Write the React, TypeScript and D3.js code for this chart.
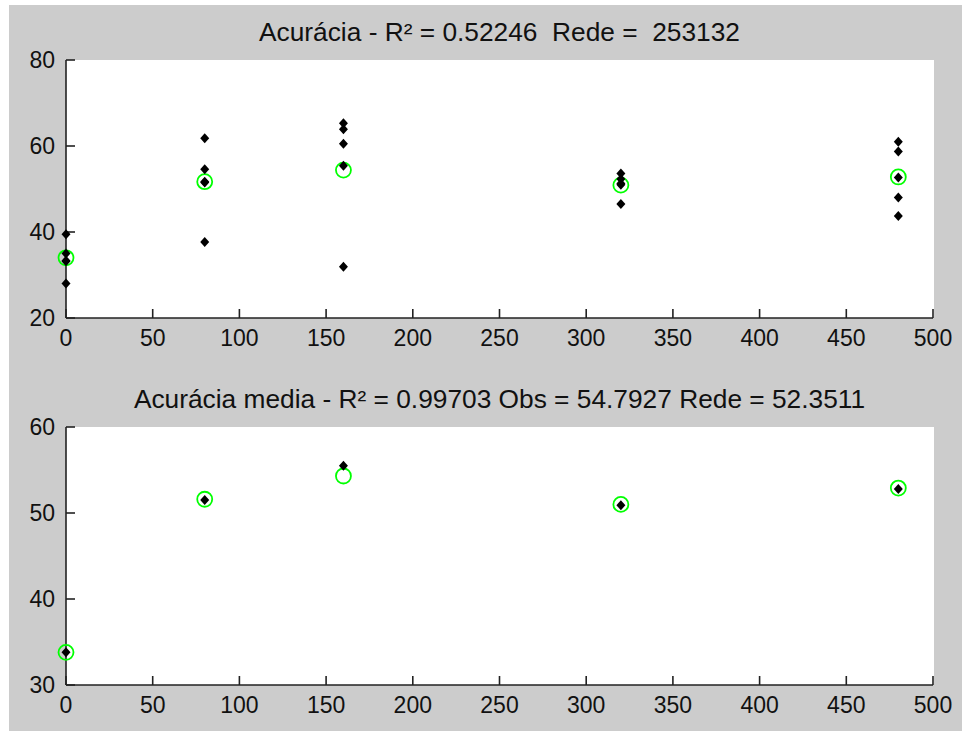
import React, { useEffect, useRef } from 'react';
import * as d3 from 'd3';

// training inputs (x) and the observed accuracies at each of them
const xValues = [0, 80, 160, 320, 480];
const observed = [
  [39.5, 35.0, 33.3, 33.2, 28.0],
  [61.8, 54.6, 51.7, 51.5, 37.7],
  [65.3, 63.9, 60.5, 55.4, 31.9],
  [53.6, 52.3, 51.3, 51.0, 46.5],
  [61.0, 58.7, 52.7, 48.0, 43.7],
];
// network output (green circles)
const netTop = [34.0, 51.7, 54.4, 50.9, 52.8];
const netMean = [33.8, 51.6, 54.3, 51.0, 52.9];
// observed mean (black points, bottom plot)
const obsMean = [33.8, 51.5, 55.5, 50.9, 52.8];

const xTicks = [0, 50, 100, 150, 200, 250, 300, 350, 400, 450, 500];
const yTicksTop = [20, 40, 60, 80];
const yTicksBottom = [30, 40, 50, 60];

const titleTop = 'Acurácia - R² = 0.52246  Rede =  253132';
const titleBottom = 'Acurácia media - R² = 0.99703 Obs = 54.7927 Rede = 52.3511';

const W = 962;
const H = 733;
const font = 'Arial, "Liberation Sans", sans-serif';

function App() {
  const ref = useRef<SVGSVGElement>(null);

  useEffect(() => {
    const svg = d3.select(ref.current);
    svg.selectAll('*').remove();

    // figure background (MATLAB grey) with thin white edge
    svg.append('rect').attr('width', W).attr('height', H).attr('fill', '#fff');
    svg.append('rect')
      .attr('x', 9).attr('y', 5)
      .attr('width', W - 9).attr('height', H - 7)
      .attr('fill', '#cccccc');

    const x = d3.scaleLinear().domain([0, 500]).range([66, 933]);

    const diamond = 'M0,-5L4.5,0L0,5L-4.5,0Z';

    const drawAxes = (y: d3.ScaleLinear<number, number>, yTicks: number[], title: string, titleY: number) => {
      const [y0, y1] = y.range();
      const g = svg.append('g');

      g.append('rect')
        .attr('x', x(0)).attr('y', y1)
        .attr('width', x(500) - x(0) + 1).attr('height', y0 - y1)
        .attr('fill', '#fff');

      g.append('text')
        .attr('x', (x(0) + x(500)) / 2)
        .attr('y', titleY)
        .attr('text-anchor', 'middle')
        .style('white-space', 'pre')
        .attr('font-family', font)
        .attr('font-size', 26.3)
        .attr('fill', '#111')
        .text(title);

      // bottom axis
      g.append('line')
        .attr('x1', x(0)).attr('x2', x(500))
        .attr('y1', y0).attr('y2', y0)
        .attr('stroke', '#222').attr('stroke-width', 1.6);
      g.selectAll('.xt')
        .data(xTicks)
        .enter()
        .append('line')
        .attr('x1', d => x(d)).attr('x2', d => x(d))
        .attr('y1', y0).attr('y2', y0 - 9)
        .attr('stroke', '#222').attr('stroke-width', 1.6);
      g.selectAll('.xl')
        .data(xTicks)
        .enter()
        .append('text')
        .attr('x', d => x(d))
        .attr('y', y0 + 28)
        .attr('text-anchor', 'middle')
        .attr('font-family', font)
        .attr('font-size', 23)
        .attr('fill', '#111')
        .text(d => d);

      // left axis
      g.append('line')
        .attr('x1', x(0)).attr('x2', x(0))
        .attr('y1', y0).attr('y2', y1)
        .attr('stroke', '#222').attr('stroke-width', 1.6);
      g.selectAll('.yt')
        .data(yTicks)
        .enter()
        .append('line')
        .attr('x1', x(0)).attr('x2', x(0) + 9)
        .attr('y1', d => y(d)).attr('y2', d => y(d))
        .attr('stroke', '#222').attr('stroke-width', 1.6);
      g.selectAll('.yl')
        .data(yTicks)
        .enter()
        .append('text')
        .attr('x', x(0) - 11)
        .attr('y', d => y(d))
        .attr('dy', '0.35em')
        .attr('text-anchor', 'end')
        .attr('font-family', font)
        .attr('font-size', 23)
        .attr('fill', '#111')
        .text(d => d);

      return g;
    };

    const circles = (g: any, y: d3.ScaleLinear<number, number>, vals: number[]) => {
      g.selectAll('.net')
        .data(vals)
        .enter()
        .append('circle')
        .attr('cx', (d: number, i: number) => x(xValues[i]))
        .attr('cy', (d: number) => y(d))
        .attr('r', 7.5)
        .attr('fill', 'none')
        .attr('stroke', '#00ff00')
        .attr('stroke-width', 1.8);
    };

    const diamonds = (g: any, pts: [number, number][]) => {
      g.selectAll('.obs')
        .data(pts)
        .enter()
        .append('path')
        .attr('d', diamond)
        .attr('transform', (d: [number, number]) => `translate(${d[0]},${d[1]})`)
        .attr('fill', '#000');
    };

    // top plot
    const yTop = d3.scaleLinear().domain([20, 80]).range([318, 60]);
    const gTop = drawAxes(yTop, yTicksTop, titleTop, 41);
    circles(gTop, yTop, netTop);
    const topPts: [number, number][] = [];
    observed.forEach((vals, i) => vals.forEach(v => topPts.push([x(xValues[i]), yTop(v)])));
    diamonds(gTop, topPts);

    // bottom plot
    const yBot = d3.scaleLinear().domain([30, 60]).range([685, 427]);
    const gBot = drawAxes(yBot, yTicksBottom, titleBottom, 408);
    circles(gBot, yBot, netMean);
    diamonds(gBot, obsMean.map((v, i) => [x(xValues[i]), yBot(v)] as [number, number]));
  }, []);

  return (
    <svg
      ref={ref}
      width={W}
      height={H}
      style={{ position: 'absolute', left: 0, top: 0, display: 'block' }}
    />
  );
}

export default App;
